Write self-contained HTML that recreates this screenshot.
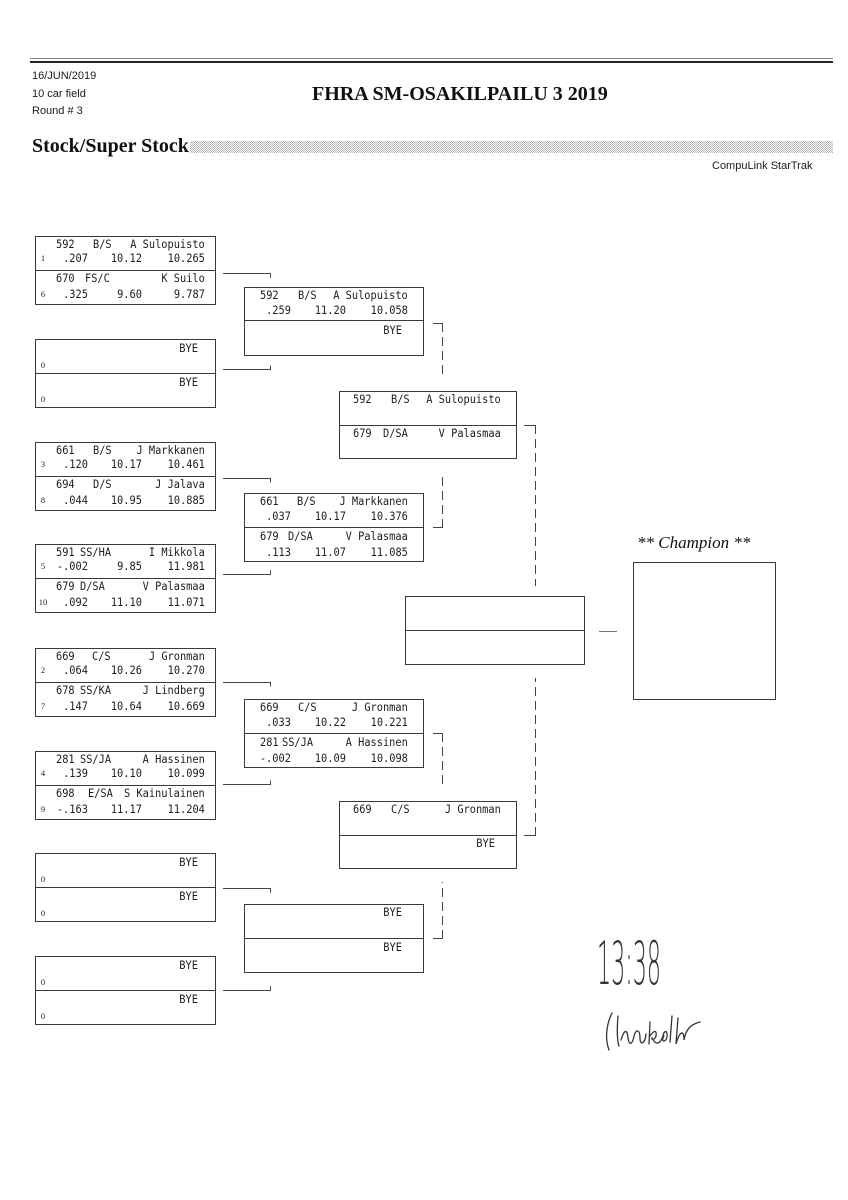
<!DOCTYPE html>
<html><head><meta charset="utf-8"><style>
html,body{margin:0;padding:0;background:#fff}
#pg{position:relative;width:848px;height:1200px;overflow:hidden;background:#fff}
.b{position:absolute;border:1px solid #3a3a3a;box-sizing:border-box;background:#fff}
.d{position:absolute;height:1px;background:#3a3a3a}
.m{position:absolute;font-family:"DejaVu Sans Mono","Liberation Mono",monospace;font-size:11.6px;line-height:12px;white-space:pre;color:#1c1c1c;transform:scaleX(.89);transform-origin:0 50%}
.m[style*="right:"]{transform-origin:100% 50%}
.sd{position:absolute;font-family:"Liberation Serif",serif;font-size:8.5px;line-height:10px;width:10px;text-align:center;color:#222}
.h{position:absolute;font-family:"Liberation Sans",sans-serif;font-size:11px;line-height:13px;color:#1a1a1a;white-space:pre}
.t{position:absolute;font-family:"Liberation Serif",serif;font-weight:bold;font-size:20px;line-height:24px;color:#111;white-space:pre}
</style></head><body><div id="pg">

<!-- header -->
<div style="position:absolute;left:30px;top:58px;width:803px;height:1px;background:#888"></div>
<div style="position:absolute;left:30px;top:61px;width:803px;height:2px;background:#222"></div>
<div class="h" style="left:32px;top:70px">16/JUN/2019</div>
<div class="h" style="left:32px;top:88px">10 car field</div>
<div class="h" style="left:32px;top:105px">Round # 3</div>
<div class="t" style="left:312px;top:82px">FHRA SM-OSAKILPAILU 3 2019</div>
<div class="t" style="left:32px;top:134px">Stock/Super Stock</div>
<div style="position:absolute;left:190px;top:141px;width:643px;height:12px;background:repeating-conic-gradient(#b5b5b5 0 25%,#fff 0 50%) 0 0/2px 2px"></div>
<div class="h" style="left:712px;top:160px">CompuLink StarTrak</div>

<!-- Round 1 boxes -->
<!-- A -->
<div class="b" style="left:35px;top:236px;width:181px;height:69px"></div>
<div class="d" style="left:35px;top:270px;width:181px"></div>
<div class="m" style="left:56px;top:238px">592</div><div class="m" style="left:93px;top:238px">B/S</div><div class="m" style="right:643px;top:238px">A Sulopuisto</div>
<div class="sd" style="left:38px;top:253px">1</div><div class="m" style="right:760px;top:252px">.207</div><div class="m" style="right:706px;top:252px">10.12</div><div class="m" style="right:643px;top:252px">10.265</div>
<div class="m" style="left:56px;top:272px">670</div><div class="m" style="left:85px;top:272px">FS/C</div><div class="m" style="right:643px;top:272px">K Suilo</div>
<div class="sd" style="left:38px;top:289px">6</div><div class="m" style="right:760px;top:288px">.325</div><div class="m" style="right:706px;top:288px">9.60</div><div class="m" style="right:643px;top:288px">9.787</div>

<!-- B -->
<div class="b" style="left:35px;top:339px;width:181px;height:69px"></div>
<div class="d" style="left:35px;top:373px;width:181px"></div>
<div class="m" style="right:650px;top:342px">BYE</div><div class="sd" style="left:38px;top:360px">0</div>
<div class="m" style="right:650px;top:376px">BYE</div><div class="sd" style="left:38px;top:394px">0</div>

<!-- C -->
<div class="b" style="left:35px;top:442px;width:181px;height:69px"></div>
<div class="d" style="left:35px;top:476px;width:181px"></div>
<div class="m" style="left:56px;top:444px">661</div><div class="m" style="left:93px;top:444px">B/S</div><div class="m" style="right:643px;top:444px">J Markkanen</div>
<div class="sd" style="left:38px;top:459px">3</div><div class="m" style="right:760px;top:458px">.120</div><div class="m" style="right:706px;top:458px">10.17</div><div class="m" style="right:643px;top:458px">10.461</div>
<div class="m" style="left:56px;top:478px">694</div><div class="m" style="left:93px;top:478px">D/S</div><div class="m" style="right:643px;top:478px">J Jalava</div>
<div class="sd" style="left:38px;top:495px">8</div><div class="m" style="right:760px;top:494px">.044</div><div class="m" style="right:706px;top:494px">10.95</div><div class="m" style="right:643px;top:494px">10.885</div>

<!-- D -->
<div class="b" style="left:35px;top:544px;width:181px;height:69px"></div>
<div class="d" style="left:35px;top:578px;width:181px"></div>
<div class="m" style="left:56px;top:546px">591</div><div class="m" style="left:80px;top:546px">SS/HA</div><div class="m" style="right:643px;top:546px">I Mikkola</div>
<div class="sd" style="left:38px;top:561px">5</div><div class="m" style="right:760px;top:560px">-.002</div><div class="m" style="right:706px;top:560px">9.85</div><div class="m" style="right:643px;top:560px">11.981</div>
<div class="m" style="left:56px;top:580px">679</div><div class="m" style="left:80px;top:580px">D/SA</div><div class="m" style="right:643px;top:580px">V Palasmaa</div>
<div class="sd" style="left:38px;top:597px">10</div><div class="m" style="right:760px;top:596px">.092</div><div class="m" style="right:706px;top:596px">11.10</div><div class="m" style="right:643px;top:596px">11.071</div>

<!-- E -->
<div class="b" style="left:35px;top:648px;width:181px;height:69px"></div>
<div class="d" style="left:35px;top:682px;width:181px"></div>
<div class="m" style="left:56px;top:650px">669</div><div class="m" style="left:92px;top:650px">C/S</div><div class="m" style="right:643px;top:650px">J Gronman</div>
<div class="sd" style="left:38px;top:665px">2</div><div class="m" style="right:760px;top:664px">.064</div><div class="m" style="right:706px;top:664px">10.26</div><div class="m" style="right:643px;top:664px">10.270</div>
<div class="m" style="left:56px;top:684px">678</div><div class="m" style="left:80px;top:684px">SS/KA</div><div class="m" style="right:643px;top:684px">J Lindberg</div>
<div class="sd" style="left:38px;top:701px">7</div><div class="m" style="right:760px;top:700px">.147</div><div class="m" style="right:706px;top:700px">10.64</div><div class="m" style="right:643px;top:700px">10.669</div>

<!-- F -->
<div class="b" style="left:35px;top:751px;width:181px;height:69px"></div>
<div class="d" style="left:35px;top:785px;width:181px"></div>
<div class="m" style="left:56px;top:753px">281</div><div class="m" style="left:80px;top:753px">SS/JA</div><div class="m" style="right:643px;top:753px">A Hassinen</div>
<div class="sd" style="left:38px;top:768px">4</div><div class="m" style="right:760px;top:767px">.139</div><div class="m" style="right:706px;top:767px">10.10</div><div class="m" style="right:643px;top:767px">10.099</div>
<div class="m" style="left:56px;top:787px">698</div><div class="m" style="left:88px;top:787px">E/SA</div><div class="m" style="right:643px;top:787px">S Kainulainen</div>
<div class="sd" style="left:38px;top:804px">9</div><div class="m" style="right:760px;top:803px">-.163</div><div class="m" style="right:706px;top:803px">11.17</div><div class="m" style="right:643px;top:803px">11.204</div>

<!-- G -->
<div class="b" style="left:35px;top:853px;width:181px;height:69px"></div>
<div class="d" style="left:35px;top:887px;width:181px"></div>
<div class="m" style="right:650px;top:856px">BYE</div><div class="sd" style="left:38px;top:874px">0</div>
<div class="m" style="right:650px;top:890px">BYE</div><div class="sd" style="left:38px;top:908px">0</div>

<!-- H -->
<div class="b" style="left:35px;top:956px;width:181px;height:69px"></div>
<div class="d" style="left:35px;top:990px;width:181px"></div>
<div class="m" style="right:650px;top:959px">BYE</div><div class="sd" style="left:38px;top:977px">0</div>
<div class="m" style="right:650px;top:993px">BYE</div><div class="sd" style="left:38px;top:1011px">0</div>

<!-- Round 2 boxes -->
<div class="b" style="left:244px;top:287px;width:180px;height:69px"></div>
<div class="d" style="left:244px;top:320px;width:180px"></div>
<div class="m" style="left:260px;top:289px">592</div><div class="m" style="left:298px;top:289px">B/S</div><div class="m" style="right:440px;top:289px">A Sulopuisto</div>
<div class="m" style="right:557px;top:304px">.259</div><div class="m" style="right:502px;top:304px">11.20</div><div class="m" style="right:440px;top:304px">10.058</div>
<div class="m" style="right:446px;top:324px">BYE</div>

<div class="b" style="left:244px;top:493px;width:180px;height:69px"></div>
<div class="d" style="left:244px;top:527px;width:180px"></div>
<div class="m" style="left:260px;top:495px">661</div><div class="m" style="left:297px;top:495px">B/S</div><div class="m" style="right:440px;top:495px">J Markkanen</div>
<div class="m" style="right:557px;top:510px">.037</div><div class="m" style="right:502px;top:510px">10.17</div><div class="m" style="right:440px;top:510px">10.376</div>
<div class="m" style="left:260px;top:530px">679</div><div class="m" style="left:288px;top:530px">D/SA</div><div class="m" style="right:440px;top:530px">V Palasmaa</div>
<div class="m" style="right:557px;top:546px">.113</div><div class="m" style="right:502px;top:546px">11.07</div><div class="m" style="right:440px;top:546px">11.085</div>

<div class="b" style="left:244px;top:699px;width:180px;height:69px"></div>
<div class="d" style="left:244px;top:733px;width:180px"></div>
<div class="m" style="left:260px;top:701px">669</div><div class="m" style="left:298px;top:701px">C/S</div><div class="m" style="right:440px;top:701px">J Gronman</div>
<div class="m" style="right:557px;top:716px">.033</div><div class="m" style="right:502px;top:716px">10.22</div><div class="m" style="right:440px;top:716px">10.221</div>
<div class="m" style="left:260px;top:736px">281</div><div class="m" style="left:282px;top:736px">SS/JA</div><div class="m" style="right:440px;top:736px">A Hassinen</div>
<div class="m" style="right:557px;top:752px">-.002</div><div class="m" style="right:502px;top:752px">10.09</div><div class="m" style="right:440px;top:752px">10.098</div>

<div class="b" style="left:244px;top:904px;width:180px;height:69px"></div>
<div class="d" style="left:244px;top:938px;width:180px"></div>
<div class="m" style="right:446px;top:906px">BYE</div>
<div class="m" style="right:446px;top:941px">BYE</div>

<!-- Round 3 boxes -->
<div class="b" style="left:339px;top:391px;width:178px;height:68px"></div>
<div class="d" style="left:339px;top:425px;width:178px"></div>
<div class="m" style="left:353px;top:393px">592</div><div class="m" style="left:391px;top:393px">B/S</div><div class="m" style="right:347px;top:393px">A Sulopuisto</div>
<div class="m" style="left:353px;top:427px">679</div><div class="m" style="left:383px;top:427px">D/SA</div><div class="m" style="right:347px;top:427px">V Palasmaa</div>

<div class="b" style="left:339px;top:801px;width:178px;height:68px"></div>
<div class="d" style="left:339px;top:835px;width:178px"></div>
<div class="m" style="left:353px;top:803px">669</div><div class="m" style="left:391px;top:803px">C/S</div><div class="m" style="right:347px;top:803px">J Gronman</div>
<div class="m" style="right:353px;top:837px">BYE</div>

<!-- Final box -->
<div class="b" style="left:405px;top:596px;width:180px;height:69px"></div>
<div class="d" style="left:405px;top:630px;width:180px"></div>

<!-- Champion -->
<div style="position:absolute;left:637px;top:533px;font-family:'Liberation Serif',serif;font-style:italic;font-size:17px;line-height:20px;color:#111;white-space:pre">** Champion **</div>
<div class="b" style="left:633px;top:562px;width:143px;height:138px"></div>

<!-- connectors -->
<svg width="848" height="1200" style="position:absolute;left:0;top:0" fill="none" stroke="#444" stroke-width="1">
<g>
<path d="M223 273.5H270.5V277.5"/>
<path d="M223 369.5H270.5V365.5"/>
<path d="M223 478.5H270.5V482.5"/>
<path d="M223 574.5H270.5V570.5"/>
<path d="M223 682.5H270.5V686.5"/>
<path d="M223 784.5H270.5V780.5"/>
<path d="M223 888.5H270.5V892.5"/>
<path d="M223 990.5H270.5V986.5"/>
<path d="M433 323.5H442.5"/>
<path d="M433 527.5H442.5"/>
<path d="M433 733.5H442.5"/>
<path d="M433 938.5H442.5"/>
<path d="M524 425.5H535.5"/>
<path d="M524 835.5H535.5"/>
<path d="M599 631.5H617" stroke="#777"/>
</g>
<g stroke-dasharray="9 5">
<path d="M442.5 323V378"/>
<path d="M442.5 528V472"/>
<path d="M442.5 733V788"/>
<path d="M442.5 939V882"/>
<path d="M535.5 425V586"/>
<path d="M535.5 836V678"/>
</g>
<!-- signature -->
<g stroke="#333" stroke-width="1.3" stroke-linecap="round">
<path d="M612 1013C606 1025 605 1040 609 1050"/>
<path d="M618 1016C617 1028 617 1040 619 1046"/>
<path d="M621 1040C624 1030 627 1028 628 1038C629 1045 632 1046 634 1036C636 1028 640 1030 640 1038C640 1046 645 1044 646 1034"/>
<path d="M650 1022L649 1044M650 1036C654 1030 657 1030 656 1036C655 1040 651 1040 652 1038C656 1046 660 1044 663 1036C664 1030 668 1030 667 1037C666 1043 660 1042 664 1036"/>
<path d="M672 1016L670 1042M678 1018L676 1044C680 1030 684 1030 684 1040C686 1028 692 1024 700 1022"/>
</g>
<text x="597" y="984" fill="#333" stroke="none" font-family="DejaVu Sans, sans-serif" font-weight="200" font-size="60" textLength="64" lengthAdjust="spacingAndGlyphs">13:38</text>
</svg>

</div></body></html>
